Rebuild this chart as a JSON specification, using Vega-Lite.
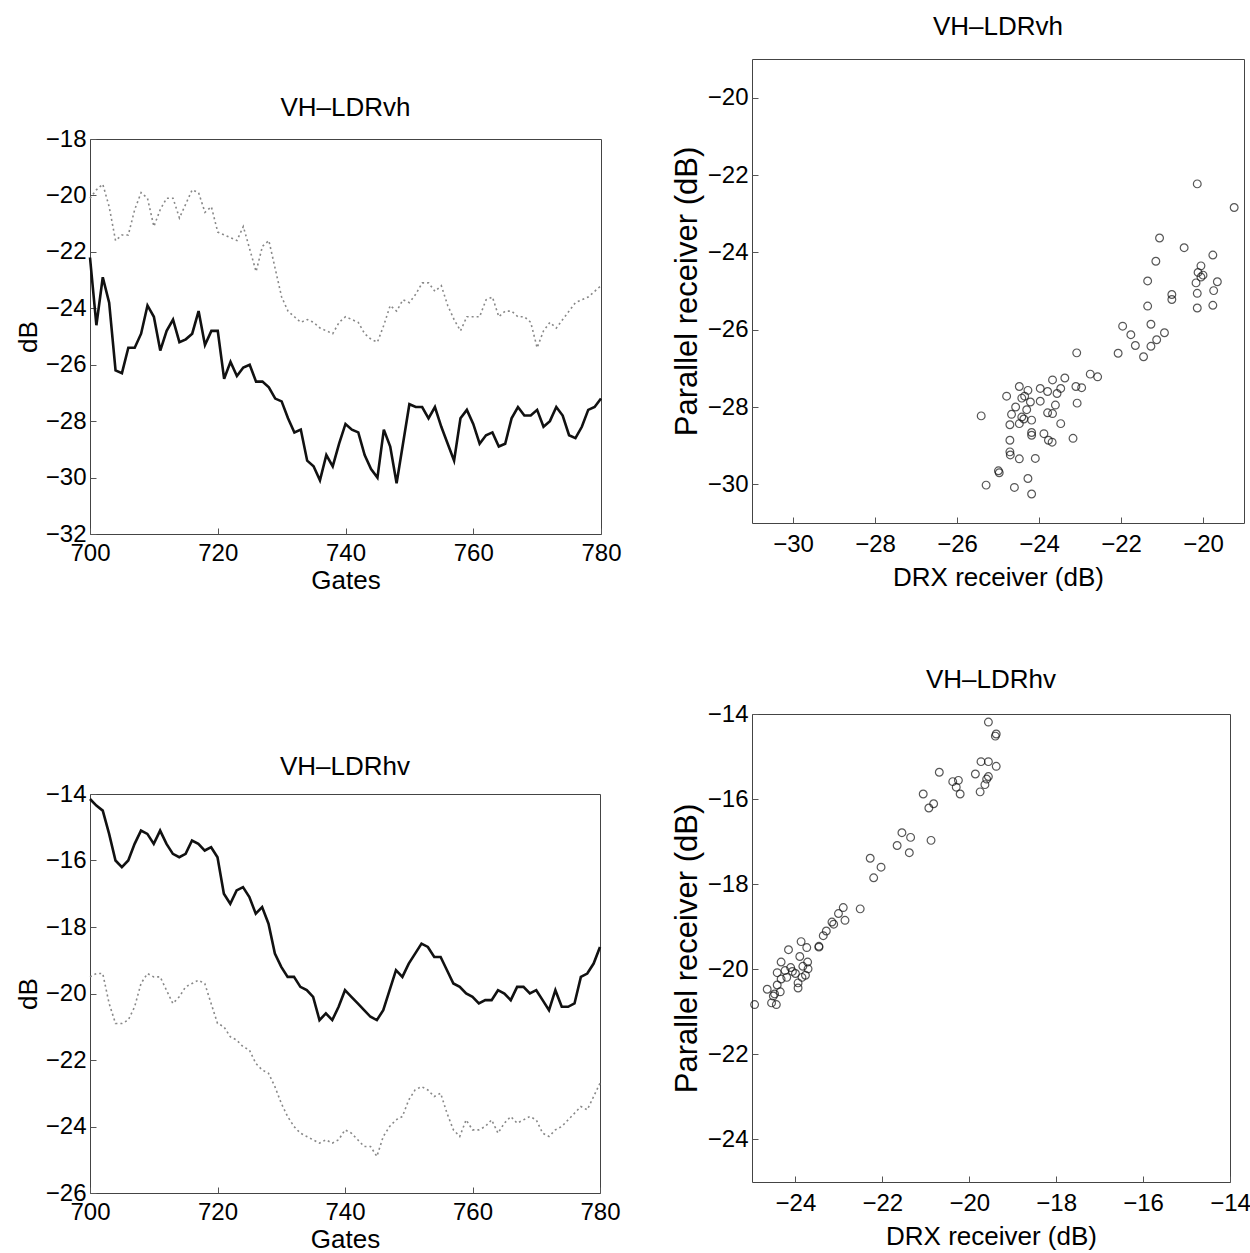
{
  "$schema": "https://vega.github.io/schema/vega-lite/v6.json",
  "padding": {"left": 14, "top": 13, "right": 5, "bottom": 0},
  "background": "white",
  "datasets": {
    "vh": [
      {"gate":700,"solid":-22.2,"dotted":-20.1},{"gate":701,"solid":-24.6,"dotted":-19.8},{"gate":702,"solid":-22.9,"dotted":-19.6},{"gate":703,"solid":-23.8,"dotted":-20.4},{"gate":704,"solid":-26.2,"dotted":-21.6},{"gate":705,"solid":-26.3,"dotted":-21.4},{"gate":706,"solid":-25.4,"dotted":-21.4},{"gate":707,"solid":-25.4,"dotted":-20.5},{"gate":708,"solid":-24.9,"dotted":-19.9},{"gate":709,"solid":-23.9,"dotted":-20.1},
      {"gate":710,"solid":-24.3,"dotted":-21.1},{"gate":711,"solid":-25.5,"dotted":-20.5},{"gate":712,"solid":-24.8,"dotted":-20.1},{"gate":713,"solid":-24.4,"dotted":-20.1},{"gate":714,"solid":-25.2,"dotted":-20.8},{"gate":715,"solid":-25.1,"dotted":-20.3},{"gate":716,"solid":-24.9,"dotted":-19.8},{"gate":717,"solid":-24.1,"dotted":-19.9},{"gate":718,"solid":-25.3,"dotted":-20.6},{"gate":719,"solid":-24.8,"dotted":-20.4},
      {"gate":720,"solid":-24.8,"dotted":-21.3},{"gate":721,"solid":-26.5,"dotted":-21.4},{"gate":722,"solid":-25.9,"dotted":-21.5},{"gate":723,"solid":-26.4,"dotted":-21.6},{"gate":724,"solid":-26.1,"dotted":-21.1},{"gate":725,"solid":-26.0,"dotted":-21.9},{"gate":726,"solid":-26.6,"dotted":-22.7},{"gate":727,"solid":-26.6,"dotted":-21.8},{"gate":728,"solid":-26.8,"dotted":-21.6},{"gate":729,"solid":-27.2,"dotted":-22.6},
      {"gate":730,"solid":-27.3,"dotted":-23.6},{"gate":731,"solid":-27.9,"dotted":-24.1},{"gate":732,"solid":-28.4,"dotted":-24.3},{"gate":733,"solid":-28.3,"dotted":-24.5},{"gate":734,"solid":-29.4,"dotted":-24.4},{"gate":735,"solid":-29.6,"dotted":-24.5},{"gate":736,"solid":-30.1,"dotted":-24.7},{"gate":737,"solid":-29.2,"dotted":-24.8},{"gate":738,"solid":-29.6,"dotted":-24.9},{"gate":739,"solid":-28.8,"dotted":-24.5},
      {"gate":740,"solid":-28.1,"dotted":-24.3},{"gate":741,"solid":-28.3,"dotted":-24.4},{"gate":742,"solid":-28.4,"dotted":-24.5},{"gate":743,"solid":-29.2,"dotted":-24.9},{"gate":744,"solid":-29.7,"dotted":-25.1},{"gate":745,"solid":-30.0,"dotted":-25.2},{"gate":746,"solid":-28.3,"dotted":-24.6},{"gate":747,"solid":-28.9,"dotted":-23.9},{"gate":748,"solid":-30.2,"dotted":-24.1},{"gate":749,"solid":-28.8,"dotted":-23.7},
      {"gate":750,"solid":-27.4,"dotted":-23.8},{"gate":751,"solid":-27.5,"dotted":-23.5},{"gate":752,"solid":-27.5,"dotted":-23.1},{"gate":753,"solid":-27.9,"dotted":-23.1},{"gate":754,"solid":-27.5,"dotted":-23.4},{"gate":755,"solid":-28.2,"dotted":-23.2},{"gate":756,"solid":-28.8,"dotted":-23.9},{"gate":757,"solid":-29.4,"dotted":-24.4},{"gate":758,"solid":-27.9,"dotted":-24.8},{"gate":759,"solid":-27.6,"dotted":-24.3},
      {"gate":760,"solid":-28.1,"dotted":-24.3},{"gate":761,"solid":-28.8,"dotted":-24.3},{"gate":762,"solid":-28.5,"dotted":-23.7},{"gate":763,"solid":-28.4,"dotted":-23.6},{"gate":764,"solid":-28.9,"dotted":-24.3},{"gate":765,"solid":-28.8,"dotted":-24.1},{"gate":766,"solid":-27.9,"dotted":-24.1},{"gate":767,"solid":-27.5,"dotted":-24.3},{"gate":768,"solid":-27.8,"dotted":-24.3},{"gate":769,"solid":-27.8,"dotted":-24.5},
      {"gate":770,"solid":-27.6,"dotted":-25.4},{"gate":771,"solid":-28.2,"dotted":-24.8},{"gate":772,"solid":-28.0,"dotted":-24.5},{"gate":773,"solid":-27.5,"dotted":-24.7},{"gate":774,"solid":-27.8,"dotted":-24.4},{"gate":775,"solid":-28.5,"dotted":-24.1},{"gate":776,"solid":-28.6,"dotted":-23.8},{"gate":777,"solid":-28.2,"dotted":-23.7},{"gate":778,"solid":-27.6,"dotted":-23.6},{"gate":779,"solid":-27.5,"dotted":-23.4},
      {"gate":780,"solid":-27.2,"dotted":-23.2}
    ],
    "hv": [
      {"gate":700,"solid":-14.15,"dotted":-19.5},{"gate":701,"solid":-14.35,"dotted":-19.4},{"gate":702,"solid":-14.5,"dotted":-19.4},{"gate":703,"solid":-15.2,"dotted":-20.3},{"gate":704,"solid":-16.0,"dotted":-20.9},{"gate":705,"solid":-16.2,"dotted":-20.9},{"gate":706,"solid":-16.0,"dotted":-20.8},{"gate":707,"solid":-15.5,"dotted":-20.4},{"gate":708,"solid":-15.1,"dotted":-19.7},{"gate":709,"solid":-15.2,"dotted":-19.4},
      {"gate":710,"solid":-15.5,"dotted":-19.5},{"gate":711,"solid":-15.1,"dotted":-19.5},{"gate":712,"solid":-15.5,"dotted":-19.9},{"gate":713,"solid":-15.8,"dotted":-20.3},{"gate":714,"solid":-15.9,"dotted":-20.1},{"gate":715,"solid":-15.8,"dotted":-19.8},{"gate":716,"solid":-15.4,"dotted":-19.7},{"gate":717,"solid":-15.5,"dotted":-19.6},{"gate":718,"solid":-15.7,"dotted":-19.7},{"gate":719,"solid":-15.6,"dotted":-20.3},
      {"gate":720,"solid":-15.9,"dotted":-20.9},{"gate":721,"solid":-17.0,"dotted":-21.0},{"gate":722,"solid":-17.3,"dotted":-21.3},{"gate":723,"solid":-16.9,"dotted":-21.4},{"gate":724,"solid":-16.8,"dotted":-21.6},{"gate":725,"solid":-17.1,"dotted":-21.7},{"gate":726,"solid":-17.6,"dotted":-22.1},{"gate":727,"solid":-17.4,"dotted":-22.3},{"gate":728,"solid":-17.9,"dotted":-22.4},{"gate":729,"solid":-18.8,"dotted":-22.8},
      {"gate":730,"solid":-19.2,"dotted":-23.3},{"gate":731,"solid":-19.5,"dotted":-23.7},{"gate":732,"solid":-19.5,"dotted":-24.0},{"gate":733,"solid":-19.8,"dotted":-24.2},{"gate":734,"solid":-19.9,"dotted":-24.3},{"gate":735,"solid":-20.1,"dotted":-24.4},{"gate":736,"solid":-20.8,"dotted":-24.5},{"gate":737,"solid":-20.6,"dotted":-24.4},{"gate":738,"solid":-20.8,"dotted":-24.5},{"gate":739,"solid":-20.4,"dotted":-24.4},
      {"gate":740,"solid":-19.9,"dotted":-24.1},{"gate":741,"solid":-20.1,"dotted":-24.2},{"gate":742,"solid":-20.3,"dotted":-24.4},{"gate":743,"solid":-20.5,"dotted":-24.6},{"gate":744,"solid":-20.7,"dotted":-24.6},{"gate":745,"solid":-20.8,"dotted":-24.9},{"gate":746,"solid":-20.5,"dotted":-24.3},{"gate":747,"solid":-19.9,"dotted":-24.0},{"gate":748,"solid":-19.3,"dotted":-23.8},{"gate":749,"solid":-19.5,"dotted":-23.7},
      {"gate":750,"solid":-19.1,"dotted":-23.2},{"gate":751,"solid":-18.8,"dotted":-22.9},{"gate":752,"solid":-18.5,"dotted":-22.8},{"gate":753,"solid":-18.6,"dotted":-22.9},{"gate":754,"solid":-18.9,"dotted":-23.1},{"gate":755,"solid":-18.9,"dotted":-23.0},{"gate":756,"solid":-19.3,"dotted":-23.6},{"gate":757,"solid":-19.7,"dotted":-24.1},{"gate":758,"solid":-19.8,"dotted":-24.3},{"gate":759,"solid":-20.0,"dotted":-23.8},
      {"gate":760,"solid":-20.1,"dotted":-24.1},{"gate":761,"solid":-20.3,"dotted":-24.1},{"gate":762,"solid":-20.2,"dotted":-24.0},{"gate":763,"solid":-20.2,"dotted":-23.8},{"gate":764,"solid":-19.9,"dotted":-24.2},{"gate":765,"solid":-20.0,"dotted":-23.9},{"gate":766,"solid":-20.2,"dotted":-23.7},{"gate":767,"solid":-19.8,"dotted":-23.9},{"gate":768,"solid":-19.8,"dotted":-23.8},{"gate":769,"solid":-20.0,"dotted":-23.7},
      {"gate":770,"solid":-19.9,"dotted":-23.8},{"gate":771,"solid":-20.2,"dotted":-24.2},{"gate":772,"solid":-20.5,"dotted":-24.3},{"gate":773,"solid":-19.9,"dotted":-24.1},{"gate":774,"solid":-20.4,"dotted":-24.0},{"gate":775,"solid":-20.4,"dotted":-23.8},{"gate":776,"solid":-20.3,"dotted":-23.6},{"gate":777,"solid":-19.5,"dotted":-23.4},{"gate":778,"solid":-19.4,"dotted":-23.5},{"gate":779,"solid":-19.1,"dotted":-23.1},
      {"gate":780,"solid":-18.6,"dotted":-22.7}
    ],
    "scvh": [
      {"drx":-20.14,"par":-22.23},{"drx":-19.24,"par":-22.84},{"drx":-21.06,"par":-23.63},{"drx":-20.46,"par":-23.88},{"drx":-19.76,"par":-24.07},{"drx":-21.15,"par":-24.23},{"drx":-20.05,"par":-24.35},{"drx":-20.12,"par":-24.52},{"drx":-20.0,"par":-24.59},{"drx":-19.65,"par":-24.76},
      {"drx":-21.35,"par":-24.74},{"drx":-20.17,"par":-24.79},{"drx":-20.14,"par":-25.06},{"drx":-19.74,"par":-24.99},{"drx":-20.76,"par":-25.09},{"drx":-20.76,"par":-25.22},{"drx":-20.14,"par":-25.44},{"drx":-19.76,"par":-25.37},{"drx":-21.35,"par":-25.39},{"drx":-21.27,"par":-25.86},
      {"drx":-21.96,"par":-25.91},{"drx":-21.76,"par":-26.13},{"drx":-20.94,"par":-26.08},{"drx":-21.13,"par":-26.26},{"drx":-21.27,"par":-26.43},{"drx":-21.65,"par":-26.41},{"drx":-21.45,"par":-26.70},{"drx":-22.07,"par":-26.61},{"drx":-23.08,"par":-26.60},{"drx":-22.75,"par":-27.15},
      {"drx":-22.57,"par":-27.22},{"drx":-23.37,"par":-27.25},{"drx":-23.67,"par":-27.30},{"drx":-23.97,"par":-27.52},{"drx":-23.47,"par":-27.52},{"drx":-23.10,"par":-27.47},{"drx":-22.96,"par":-27.50},{"drx":-24.48,"par":-27.47},{"drx":-24.27,"par":-27.57},{"drx":-23.79,"par":-27.60},
      {"drx":-23.56,"par":-27.65},{"drx":-24.79,"par":-27.72},{"drx":-24.42,"par":-27.77},{"drx":-24.21,"par":-27.87},{"drx":-23.97,"par":-27.85},{"drx":-23.07,"par":-27.90},{"drx":-23.60,"par":-27.95},{"drx":-24.57,"par":-28.00},{"drx":-24.30,"par":-28.07},{"drx":-23.79,"par":-28.15},
      {"drx":-23.67,"par":-28.17},{"drx":-25.41,"par":-28.23},{"drx":-24.67,"par":-28.19},{"drx":-24.42,"par":-28.26},{"drx":-24.18,"par":-28.34},{"drx":-24.37,"par":-28.31},{"drx":-23.47,"par":-28.43},{"drx":-24.48,"par":-28.43},{"drx":-24.18,"par":-28.66},{"drx":-24.18,"par":-28.73},
      {"drx":-23.88,"par":-28.69},{"drx":-23.77,"par":-28.86},{"drx":-23.68,"par":-28.91},{"drx":-23.17,"par":-28.81},{"drx":-24.71,"par":-28.86},{"drx":-24.71,"par":-29.16},{"drx":-24.70,"par":-29.24},{"drx":-24.48,"par":-29.34},{"drx":-24.09,"par":-29.33},{"drx":-24.99,"par":-29.65},
      {"drx":-24.97,"par":-29.70},{"drx":-24.27,"par":-29.85},{"drx":-25.29,"par":-30.02},{"drx":-24.60,"par":-30.08},{"drx":-24.18,"par":-30.25},{"drx":-20.05,"par":-24.64},{"drx":-24.71,"par":-28.46},{"drx":-24.35,"par":-27.72}
    ],
    "schv": [
      {"drx":-19.56,"par":-14.19},{"drx":-19.38,"par":-14.47},{"drx":-19.40,"par":-14.52},{"drx":-19.73,"par":-15.12},{"drx":-19.56,"par":-15.12},{"drx":-19.38,"par":-15.23},{"drx":-20.69,"par":-15.37},{"drx":-19.86,"par":-15.41},{"drx":-19.56,"par":-15.47},{"drx":-19.60,"par":-15.53},
      {"drx":-20.38,"par":-15.59},{"drx":-20.25,"par":-15.56},{"drx":-20.30,"par":-15.72},{"drx":-19.64,"par":-15.66},{"drx":-19.75,"par":-15.83},{"drx":-20.21,"par":-15.88},{"drx":-21.06,"par":-15.88},{"drx":-20.82,"par":-16.11},{"drx":-20.93,"par":-16.21},{"drx":-20.88,"par":-16.97},
      {"drx":-21.55,"par":-16.79},{"drx":-21.35,"par":-16.90},{"drx":-21.66,"par":-17.09},{"drx":-21.38,"par":-17.26},{"drx":-22.28,"par":-17.39},{"drx":-22.03,"par":-17.60},{"drx":-22.20,"par":-17.85},{"drx":-22.51,"par":-18.58},{"drx":-22.90,"par":-18.55},{"drx":-23.01,"par":-18.69},
      {"drx":-22.86,"par":-18.85},{"drx":-23.16,"par":-18.89},{"drx":-23.29,"par":-19.10},{"drx":-23.36,"par":-19.21},{"drx":-23.46,"par":-19.46},{"drx":-23.87,"par":-19.35},{"drx":-24.16,"par":-19.54},{"drx":-23.74,"par":-19.49},{"drx":-23.90,"par":-19.70},{"drx":-23.72,"par":-19.83},
      {"drx":-24.33,"par":-19.83},{"drx":-24.11,"par":-19.96},{"drx":-23.71,"par":-19.99},{"drx":-24.42,"par":-20.08},{"drx":-24.00,"par":-20.10},{"drx":-23.77,"par":-20.14},{"drx":-24.20,"par":-20.19},{"drx":-23.85,"par":-20.19},{"drx":-24.33,"par":-20.23},{"drx":-23.94,"par":-20.32},
      {"drx":-24.42,"par":-20.37},{"drx":-24.65,"par":-20.47},{"drx":-24.35,"par":-20.53},{"drx":-23.94,"par":-20.44},{"drx":-24.51,"par":-20.63},{"drx":-24.55,"par":-20.79},{"drx":-24.44,"par":-20.83},{"drx":-24.94,"par":-20.83},{"drx":-24.07,"par":-20.05},{"drx":-24.24,"par":-20.03},
      {"drx":-23.83,"par":-19.93},{"drx":-24.48,"par":-20.58},{"drx":-23.12,"par":-18.94},{"drx":-23.46,"par":-19.48}
    ]
  },
  "config": {
    "font": "Liberation Sans",
    "view": {"stroke": "#444444", "strokeWidth": 1},
    "axis": {
      "grid": false,
      "domain": false,
      "labelFont": "Liberation Sans",
      "labelFontSize": 24,
      "labelColor": "#000000",
      "titleFont": "Liberation Sans",
      "titleFontSize": 26,
      "titleFontWeight": "normal",
      "titleColor": "#000000",
      "tickColor": "#555555",
      "tickSize": -6,
      "labelPadding": 10,
      "titlePadding": 4,
      "labelFlush": false,
      "labelOverlap": false
    },
    "title": {"font": "Liberation Sans", "fontSize": 26, "fontWeight": "normal", "color": "#000000", "offset": 18}
  },
  "spacing": 48,
  "hconcat": [
    {
      "spacing": 10,
      "vconcat": [
        {
          "width": 10,
          "height": 25,
          "view": {"stroke": null},
          "data": {"values": []},
          "mark": {"type": "point"},
          "encoding": {}
        },
        {
          "title": {"text": "VH–LDRvh", "offset": 6},
          "width": 511,
          "height": 395,
          "data": {"name": "vh"},
          "layer": [
            {
              "mark": {"type": "line", "color": "#888888", "strokeWidth": 1.6, "strokeDash": [2, 3]},
              "encoding": {
                "x": {"field": "gate", "type": "quantitative", "scale": {"domain": [700, 780], "nice": false}, "axis": {"values": [700, 720, 740, 760, 780], "title": "Gates", "labelPadding": 13, "titlePadding": 2}},
                "y": {"field": "dotted", "type": "quantitative", "scale": {"domain": [-32, -18], "nice": false}, "axis": {"values": [-32, -30, -28, -26, -24, -22, -20, -18], "title": "dB"}}
              }
            },
            {
              "mark": {"type": "line", "color": "#111111", "strokeWidth": 2.6},
              "encoding": {
                "x": {"field": "gate", "type": "quantitative"},
                "y": {"field": "solid", "type": "quantitative"}
              }
            }
          ]
        },
        {
          "width": 10,
          "height": 139,
          "view": {"stroke": null},
          "data": {"values": []},
          "mark": {"type": "point"},
          "encoding": {}
        },
        {
          "title": {"text": "VH–LDRhv", "offset": 2},
          "width": 510,
          "height": 399,
          "data": {"name": "hv"},
          "layer": [
            {
              "mark": {"type": "line", "color": "#888888", "strokeWidth": 1.6, "strokeDash": [2, 3]},
              "encoding": {
                "x": {"field": "gate", "type": "quantitative", "scale": {"domain": [700, 780], "nice": false}, "axis": {"values": [700, 720, 740, 760, 780], "title": "Gates", "labelPadding": 13, "titlePadding": 2}},
                "y": {"field": "dotted", "type": "quantitative", "scale": {"domain": [-26, -14], "nice": false}, "axis": {"values": [-26, -24, -22, -20, -18, -16, -14], "title": "dB"}}
              }
            },
            {
              "mark": {"type": "line", "color": "#111111", "strokeWidth": 2.6},
              "encoding": {
                "x": {"field": "gate", "type": "quantitative"},
                "y": {"field": "solid", "type": "quantitative"}
              }
            }
          ]
        }
      ]
    },
    {
      "spacing": 75,
      "vconcat": [
        {
          "title": {"text": "VH–LDRvh", "offset": 19},
          "width": 492,
          "height": 464,
          "data": {"name": "scvh"},
          "mark": {"type": "point", "shape": "circle", "filled": false, "color": "#111111", "size": 60, "strokeWidth": 1.2},
          "encoding": {
            "x": {"field": "drx", "type": "quantitative", "scale": {"domain": [-31, -19], "nice": false, "zero": false}, "axis": {"values": [-30, -28, -26, -24, -22, -20], "title": "DRX receiver (dB)", "labelPadding": 15, "titlePadding": 8}},
            "y": {"field": "par", "type": "quantitative", "scale": {"domain": [-31, -19], "nice": false, "zero": false}, "axis": {"values": [-30, -28, -26, -24, -22, -20], "title": "Parallel receiver (dB)", "titleFontSize": 31}}
          }
        },
        {
          "title": {"text": "VH–LDRhv", "offset": 9},
          "width": 478,
          "height": 468,
          "data": {"name": "schv"},
          "mark": {"type": "point", "shape": "circle", "filled": false, "color": "#111111", "size": 60, "strokeWidth": 1.2},
          "encoding": {
            "x": {"field": "drx", "type": "quantitative", "scale": {"domain": [-25, -14], "nice": false, "zero": false}, "axis": {"values": [-24, -22, -20, -18, -16, -14], "title": "DRX receiver (dB)", "labelPadding": 15, "titlePadding": 8}},
            "y": {"field": "par", "type": "quantitative", "scale": {"domain": [-25, -14], "nice": false, "zero": false}, "axis": {"values": [-24, -22, -20, -18, -16, -14], "title": "Parallel receiver (dB)", "titleFontSize": 31}}
          }
        }
      ]
    }
  ]
}
